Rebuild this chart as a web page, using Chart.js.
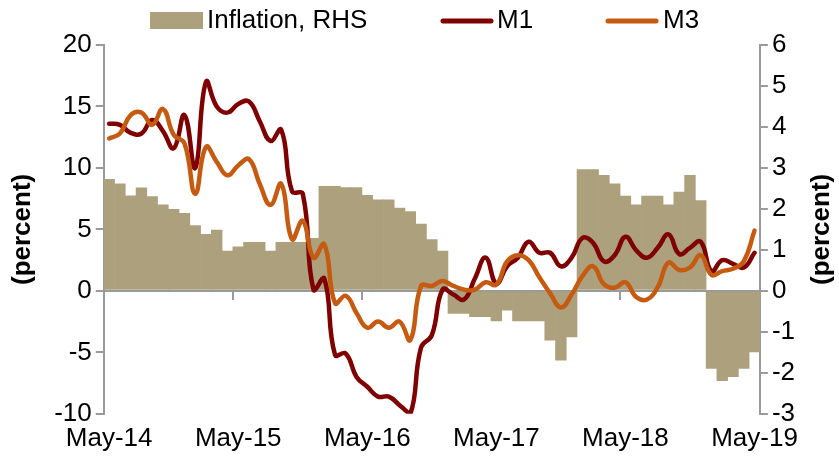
<!DOCTYPE html>
<html>
<head>
<meta charset="utf-8">
<script src="https://cdn.jsdelivr.net/npm/chart.js@4.4.1/dist/chart.umd.min.js"></script>
<style>
html,body{margin:0;padding:0;background:#fff;}
#wrap{width:839px;height:460px;}
</style>
</head>
<body>
<div id="wrap"><canvas id="c" width="839" height="460"></canvas></div>
<script>
// ---- data ----
const categories = [
  'May-14','Jun-14','Jul-14','Aug-14','Sep-14','Oct-14','Nov-14','Dec-14','Jan-15','Feb-15','Mar-15','Apr-15',
  'May-15','Jun-15','Jul-15','Aug-15','Sep-15','Oct-15','Nov-15','Dec-15','Jan-16','Feb-16','Mar-16','Apr-16',
  'May-16','Jun-16','Jul-16','Aug-16','Sep-16','Oct-16','Nov-16','Dec-16','Jan-17','Feb-17','Mar-17','Apr-17',
  'May-17','Jun-17','Jul-17','Aug-17','Sep-17','Oct-17','Nov-17','Dec-17','Jan-18','Feb-18','Mar-18','Apr-18',
  'May-18','Jun-18','Jul-18','Aug-18','Sep-18','Oct-18','Nov-18','Dec-18','Jan-19','Feb-19','Mar-19','Apr-19',
  'May-19'
];
const tickLabels = ['May-14','May-15','May-16','May-17','May-18','May-19'];

// Inflation, RHS (percent)
const inflation = [
  2.73, 2.62, 2.33, 2.52, 2.31, 2.11, 2.00, 1.90, 1.60, 1.39, 1.49, 0.98,
  1.08, 1.19, 1.19, 0.98, 1.19, 1.19, 1.19, 1.29, 2.56, 2.56, 2.53, 2.53,
  2.34, 2.23, 2.23, 2.03, 1.94, 1.64, 1.26, 0.98, -0.56, -0.56, -0.64, -0.64,
  -0.74, -0.48, -0.74, -0.74, -0.74, -1.21, -1.70, -1.13, 2.97, 2.97, 2.83, 2.62,
  2.32, 2.11, 2.32, 2.32, 2.11, 2.42, 2.83, 2.21, -1.90, -2.20, -2.10, -1.90,
  -1.50
];

// M1 (percent)
const m1 = [
  13.6, 13.5, 12.85, 12.8, 13.9, 13.0, 11.6, 14.3, 10.0, 17.0, 15.0, 14.5,
  15.2, 15.4, 13.8, 12.2, 13.1, 8.1, 7.9, 0.1, 1.0, -5.2, -5.1, -7.0,
  -7.8, -8.6, -8.6, -9.3, -10.0, -4.6, -3.6, 0.1, -0.3, -0.7, 1.0, 2.7,
  0.6, 2.0, 2.7, 4.0, 3.1, 3.1, 2.0, 2.7, 4.3, 3.9, 2.4, 2.9,
  4.4, 3.3, 2.7, 3.5, 4.6, 3.0, 3.5, 4.0, 1.6, 2.5, 2.2, 1.9,
  3.1
];

// M3 (percent)
const m3 = [
  12.4, 12.8, 14.3, 14.5, 13.5, 14.8, 12.7, 12.0, 7.9, 11.7, 10.5, 9.4,
  10.2, 10.7, 8.7, 7.0, 8.7, 4.2, 5.7, 2.7, 3.8, -1.0, -0.4, -1.8,
  -3.0, -2.5, -3.0, -2.5, -4.0, 0.4, 0.4, 0.8, 0.4, 0.1, 0.1, 0.7,
  0.5, 2.4, 2.9, 2.5, 1.1, -0.2, -1.35, -0.3, 1.2, 2.0, 0.55, 0.25,
  0.7, -0.5, -0.7, 0.3, 2.3, 1.7, 1.9, 2.9, 1.3, 1.6, 1.8, 2.4,
  4.9
];

// ---- styles ----
const FONT = '"Liberation Sans", Arial, Helvetica, sans-serif';
const AXIS = '#9A9A9A';
const C_INF = '#ADA07D';
const C_M1 = '#7F0000';
const C_M3 = '#C55A11';

Chart.defaults.font.family = FONT;
Chart.defaults.font.size = 26;
Chart.defaults.color = '#000';

const extras = {
  id: 'extras',
  afterDraw(chart) {
    const ctx = chart.ctx;
    const ca = chart.chartArea;
    ctx.save();
    ctx.font = '26px ' + FONT;
    ctx.fillStyle = '#000';
    ctx.textBaseline = 'middle';
    ctx.textAlign = 'left';
    // legend
    const ly = 21;
    ctx.fillStyle = C_INF;
    ctx.fillRect(150, 12, 53, 17);
    ctx.fillStyle = '#000';
    ctx.fillText(chart.data.datasets[0].label, 207, ly);
    ctx.lineCap = 'round';
    ctx.lineWidth = 5;
    ctx.strokeStyle = C_M1;
    ctx.beginPath(); ctx.moveTo(443, ly); ctx.lineTo(491, ly); ctx.stroke();
    ctx.fillText(chart.data.datasets[1].label, 497, ly);
    ctx.strokeStyle = C_M3;
    ctx.beginPath(); ctx.moveTo(608, ly); ctx.lineTo(656, ly); ctx.stroke();
    ctx.fillText(chart.data.datasets[2].label, 663, ly);
    // right axis title
    ctx.translate(822, (ca.top + ca.bottom) / 2);
    ctx.rotate(-Math.PI / 2);
    ctx.font = 'bold 26px ' + FONT;
    ctx.textAlign = 'center';
    ctx.fillText('(percent)', 0, 0);
    ctx.restore();
  }
};

new Chart(document.getElementById('c'), {
  data: {
    labels: categories,
    datasets: [
      { type: 'bar', label: 'Inflation, RHS', data: inflation, yAxisID: 'y1', xAxisID: 'x',
        backgroundColor: C_INF, borderWidth: 0, barPercentage: 1.06, categoryPercentage: 1, order: 2 },
      { type: 'line', label: 'M1', data: m1, yAxisID: 'y', xAxisID: 'x',
        borderColor: C_M1, backgroundColor: C_M1, borderWidth: 4.5, pointRadius: 0, tension: 0.45,
        borderCapStyle: 'round', borderJoinStyle: 'round', fill: false, order: 1 },
      { type: 'line', label: 'M3', data: m3, yAxisID: 'y', xAxisID: 'x',
        borderColor: C_M3, backgroundColor: C_M3, borderWidth: 4.5, pointRadius: 0, tension: 0.45,
        borderCapStyle: 'round', borderJoinStyle: 'round', fill: false, order: 0 }
    ]
  },
  options: {
    responsive: false,
    animation: false,
    layout: { padding: { left: 3, right: 40, top: 45, bottom: -3 } },
    plugins: { legend: { display: false }, tooltip: { enabled: false } },
    scales: {
      x: {
        type: 'category', position: 'bottom', offset: true,
        grid: { display: false, drawTicks: false },
        border: { display: false },
        ticks: {
          autoSkip: false, maxRotation: 0, minRotation: 0, padding: 9,
          callback: function (v) { const l = this.getLabelForValue(v); return tickLabels.includes(l) ? l : ''; }
        }
      },
      xz: {
        type: 'category', position: { y: 0 }, offset: true,
        grid: {
          display: true, drawOnChartArea: false, drawTicks: true, tickLength: 8, offset: true, lineWidth: 2,
          color: (c) => (c.index % 12 === 0 ? AXIS : 'rgba(0,0,0,0)')
        },
        border: { display: true, color: AXIS, width: 2 },
        ticks: { display: false, autoSkip: false }
      },
      y: {
        position: 'left', min: -10, max: 20,
        ticks: { stepSize: 5, padding: 4 },
        grid: { drawOnChartArea: false, drawTicks: true, tickLength: 8, color: AXIS, lineWidth: 2 },
        border: { display: true, color: AXIS, width: 2 },
        title: { display: true, text: '(percent)', font: { size: 26, weight: 'bold' }, padding: { top: 4, bottom: 12 } }
      },
      y1: {
        position: 'right', min: -3, max: 6,
        ticks: { stepSize: 1, padding: 4 },
        grid: { drawOnChartArea: false, drawTicks: true, tickLength: 8, color: AXIS, lineWidth: 2 },
        border: { display: true, color: AXIS, width: 2 }
      }
    }
  },
  plugins: [extras]
});
</script>
</body>
</html>
